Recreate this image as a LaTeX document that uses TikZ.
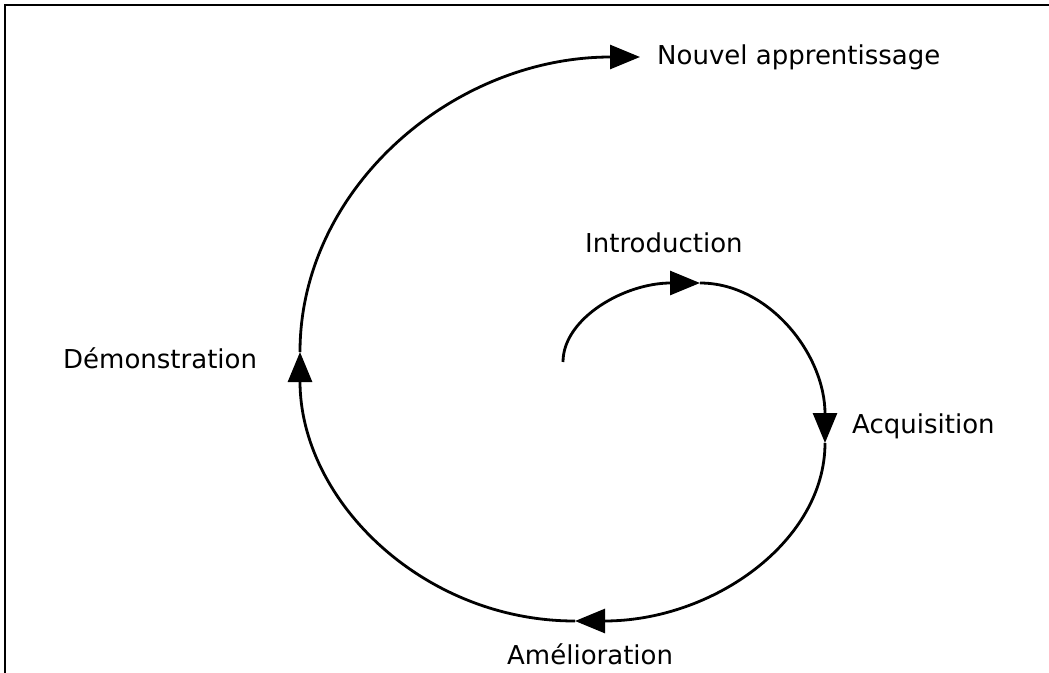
\documentclass[tikz,border=0pt]{standalone}
\usepackage{fontspec}
\setmainfont{DejaVu Sans}
\usetikzlibrary{
arrows.meta,
positioning,
}
\tikzset{
x=1pt, y=-1pt,
every node/.style={align=center, inner sep=0pt},
phase/.style={anchor=base west, font=\fontsize{26}{30}\selectfont},
flow/.style={line width=2.8pt, ->},
frame/.style={line width=2pt},
>={Triangle[length=30pt,width=24pt]},
}

\begin{document}
\begin{tikzpicture}
    \useasboundingbox (0,0) rectangle (1049,672);
    \clip (0,0) rectangle (1049,672);
    \draw [frame] (5,5) rectangle (1080,700);
    % points on the spiral
    \coordinate (start) at (563,362);
    \coordinate (ptintro) at (700,283);
    \coordinate (ptacq) at (825,443);
    \coordinate (ptamel) at (575,621);
    \coordinate (ptdemo) at (300,352);
    \coordinate (ptnouv) at (640,57);
    % labels
    \node [phase] (intro) at (585,252) {Introduction};
    \node [phase] (acq) at (852,433) {Acquisition};
    \node [phase] (amel) at (507,664) {Amélioration};
    \node [phase] (demo) at (63,368) {Démonstration};
    \node [phase] (nouv) at (657,64) {Nouvel apprentissage};
    % spiral
    \draw [flow] (start) arc [start angle=180, end angle=270, x radius=137, y radius=79];
    \draw [flow] (ptintro) arc [start angle=270, end angle=360, x radius=125, y radius=160];
    \draw [flow] (ptacq) arc [start angle=0, end angle=90, x radius=250, y radius=178];
    \draw [flow] (ptamel) arc [start angle=90, end angle=180, x radius=275, y radius=269];
    \draw [flow] (ptdemo) arc [start angle=180, end angle=270, x radius=340, y radius=295];
\end{tikzpicture}
\end{document}
